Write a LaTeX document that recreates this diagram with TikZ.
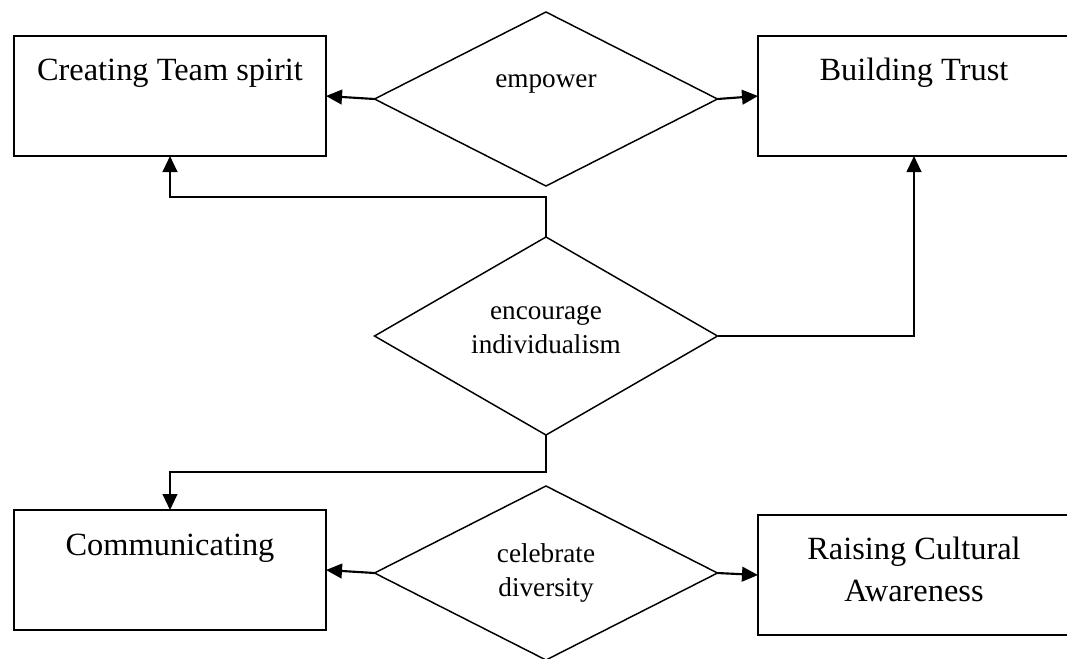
\documentclass[tikz,border=0pt]{standalone}
\usepackage{fontspec}
\setmainfont{Liberation Serif}
\usetikzlibrary{arrows.meta,shapes.geometric}
\begin{document}
\begin{tikzpicture}[x=0.75pt,y=-0.75pt,
  box/.style={draw, line width=1.6pt, rectangle, inner sep=0pt, outer sep=0pt,
    minimum width=234pt, minimum height=90pt},
  choice/.style={draw, line width=1.1pt, diamond, inner sep=0pt, outer sep=0pt,
    minimum width=257.25pt},
  boxtext/.style={anchor=base, align=center, inner sep=0pt,
    font=\fontsize{24.3pt}{31.5pt}\selectfont},
  choicetext/.style={anchor=base, align=center, inner sep=0pt,
    font=\fontsize{20.4pt}{25.5pt}\selectfont},
  link/.style={line width=1.6pt, -{Triangle[length=12pt,width=11pt]}},
]
\clip (0,0) rectangle (1067,658);
\fill[white] (0,0) rectangle (1067,658);

% outcome boxes
\node[box] (team)  at (170,96)  {};
\node[box] (trust) at (914,96)  {};
\node[box] (comm)  at (170,570) {};
\node[box] (aware) at (914,575) {};

% decision diamonds
\node[choice, minimum height=130.5pt] (empower)   at (546,99)  {};
\node[choice, minimum height=148.5pt] (encourage) at (546,336) {};
\node[choice, minimum height=130.5pt] (celebrate) at (546,573) {};

% labels (base anchor sits on the last line of each label)
\node[boxtext] (teamlbl)  at (170,80)  {Creating Team spirit};
\node[boxtext] (trustlbl) at (914,80)  {Building Trust};
\node[boxtext] (commlbl)  at (170,555) {Communicating};
\node[boxtext] (awarelbl) at (914,601) {Raising Cultural\\Awareness};
\node[choicetext] (emplbl) at (546,87)  {empower};
\node[choicetext] (enclbl) at (546,353) {encourage\\individualism};
\node[choicetext] (cellbl) at (546,596) {celebrate\\diversity};

% connectors
\draw[link] (empower.west) -- (team.east);
\draw[link] (empower.east) -- (trust.west);
\draw[link] (encourage.north) -- ++(0,-40) -| (team.south);
\draw[link] (encourage.east) -| (trust.south);
\draw[link] (encourage.south) -- ++(0,37) -| (comm.north);
\draw[link] (celebrate.west) -- (comm.east);
\draw[link] (celebrate.east) -- (aware.west);
\end{tikzpicture}
\end{document}
